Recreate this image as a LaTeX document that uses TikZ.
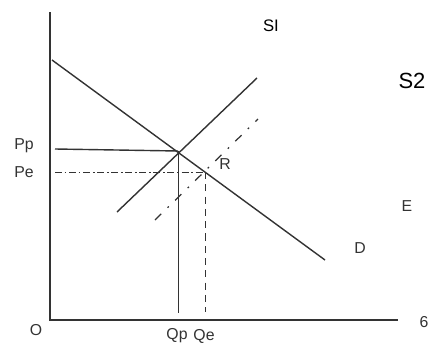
\documentclass[tikz,border=0pt]{standalone}
\usepackage{fontspec}
\setsansfont{Liberation Sans}
\usetikzlibrary{calc}

\begin{document}
\begin{tikzpicture}[x=0.02cm, y=-0.02cm, line width=0.75pt, color={black!80},
  curve/.style={line width=0.8pt},
  guide/.style={line width=0.5pt},
  shifted/.style={line width=0.7pt, dash pattern=on 5pt off 5pt on 1pt off 5pt},
  lbl/.style={font=\sffamily\small, inner sep=0pt},
  tag/.style={font=\sffamily, inner sep=0pt, text=black}]
\useasboundingbox (0,0) rectangle (430,345);
% axes
\coordinate (O) at (50, 320);
\coordinate (yTop) at (50, 12);
\coordinate (xEnd) at (398, 320);
\draw (yTop)--(O)--(xEnd);
% demand and the two supply lines
\coordinate (dA) at (52, 60);
\coordinate (dB) at (325, 260);
\coordinate (sOneA) at (117, 212);
\coordinate (sOneB) at (257, 78);
\coordinate (sTwoA) at (155, 220);
\coordinate (sTwoB) at (258, 119);
\draw [curve] (dA)--(dB);
\draw [curve] (sOneA)--(sOneB);
\draw [shifted] (sTwoA)--(sTwoB);
% equilibrium points and guides
\coordinate (Ep) at (178, 151);
\coordinate (Er) at (205, 172);
\coordinate (ppL) at (55, 149);
\coordinate (peL) at (55, 172);
\coordinate (qpB) at (178, 313);
\coordinate (qeB) at (205, 312);
\draw [curve] (ppL)--(Ep);
\draw [guide] (Ep)--(qpB);
\draw [guide, dash pattern=on 4pt off 1.5pt on 1pt off 1.5pt] (peL)--(Er);
\draw [guide, dash pattern=on 4pt off 3pt] (Er)--(qeB);
% labels
\node [lbl] (pp) at (24, 146) {Pp};
\node [lbl] (pe) at (24, 172) {Pe};
\node [lbl] (o) at (36, 330) {O};
\node [lbl] (qp) at (177, 336) {Qp};
\node [lbl] (qe) at (204, 336) {Qe};
\node [lbl] (r) at (225, 164) {R};
\node [lbl] (d) at (360, 248) {D};
\node [lbl] (e) at (407, 206) {E};
\node [lbl] (q) at (424, 322) {6};
\node [tag, font=\sffamily\fontsize{9.5}{11}\selectfont] (sOne) at (271, 26) {SI};
\node [tag, font=\sffamily\fontsize{12.5}{14}\selectfont] (sTwo) at (412, 81) {S2};
\end{tikzpicture}
\end{document}
